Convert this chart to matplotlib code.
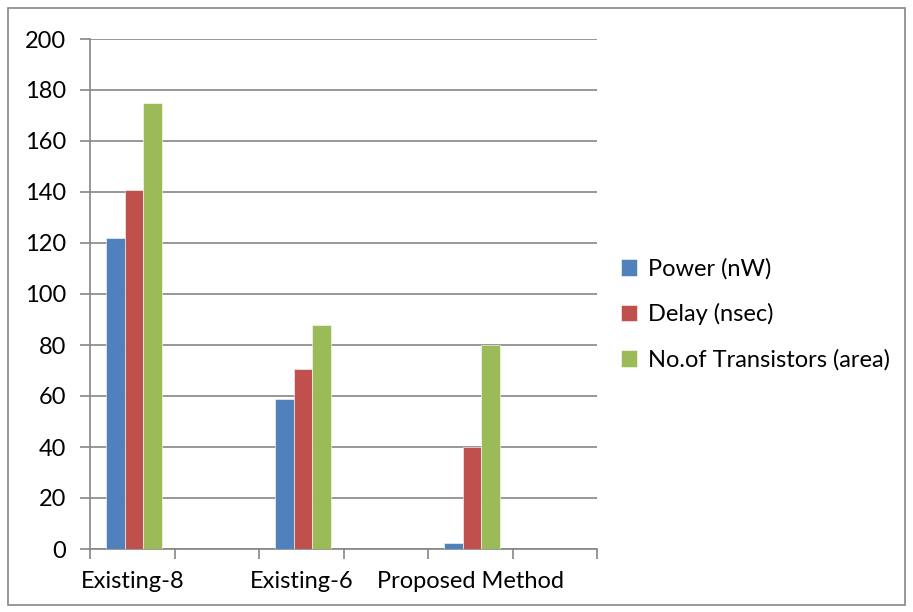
import numpy as np
import matplotlib.pyplot as plt
from matplotlib.patches import Rectangle

# Данные (6 категорий, подписаны только 1, 3, 5)
categories = ['Existing-8', '', 'Existing-6', '', 'Proposed Method', '']
power = [122, np.nan, 59, np.nan, 2.3, np.nan]
delay = [140.7, np.nan, 70.6, np.nan, 40, np.nan]
transistors = [175, np.nan, 88, np.nan, 80, np.nan]
series_names = ['Power (nW)', 'Delay (nsec)', 'No.of Transistors (area)']
colors = ['#4F81BD', '#C0504D', '#9BBB59']

plt.rcParams['font.family'] = ['Lato', 'DejaVu Sans']

fig = plt.figure(figsize=(9.13, 6.12), dpi=100)
ax = fig.add_axes([90 / 913, 1 - 549 / 612, (597 - 90) / 913, (549 - 39) / 612])

x = np.arange(len(categories)) + 0.5
w = 0.219
for i, (vals, name, c) in enumerate(zip([power, delay, transistors], series_names, colors)):
    ax.bar(x + 0.02 + (i - 1) * w, vals, width=w, color=c, label=name,
           edgecolor='white', linewidth=0.4, zorder=3)

ax.set_xlim(0, len(categories))
ax.set_ylim(0, 200)
ax.set_yticks(np.arange(0, 201, 20))
ax.yaxis.grid(True, color='#868686', linewidth=1.2, zorder=0)

# подписи категорий по центрам, засечки по границам
ax.set_xticks(np.arange(len(categories) + 1))
ax.set_xticklabels([])
ax.set_xticks(x, minor=True)
ax.set_xticklabels(categories, minor=True)
ax.tick_params(axis='x', which='minor', length=0, pad=16, labelsize=17)
ax.tick_params(axis='x', which='major', length=7, width=1.2, color='#868686')
ax.tick_params(axis='y', length=7, width=1.2, color='#868686', pad=10, labelsize=17)

for s in ['top', 'right']:
    ax.spines[s].set_visible(False)
for s in ['left', 'bottom']:
    ax.spines[s].set_color('#868686')
    ax.spines[s].set_linewidth(1.2)

ax.legend(loc='center left', bbox_to_anchor=(1.005, 0.46), frameon=False,
          fontsize=17, handlelength=0.7, handleheight=0.7,
          handletextpad=0.45, labelspacing=1.0)

# рамка вокруг всей диаграммы
fig.patches.append(Rectangle((8 / 913, 7 / 612), 897 / 913, 597 / 612,
                             transform=fig.transFigure, fill=False,
                             edgecolor='#868686', linewidth=1.2))

fig.savefig('out.png', dpi=100)
